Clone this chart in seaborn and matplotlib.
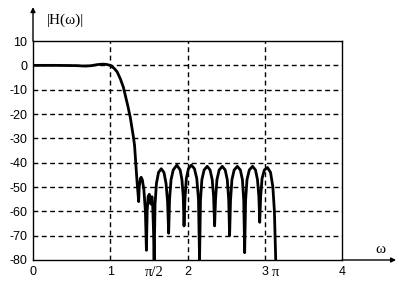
import numpy as np
import pandas as pd
import matplotlib
matplotlib.use("Agg")
import matplotlib.pyplot as plt
import seaborn as sns

# ---- data ----
omega = [
    0.00, 0.30, 0.55, 0.68, 0.76, 0.83, 0.90, 0.95, 1.00,
    1.05, 1.09, 1.13, 1.17, 1.20, 1.23, 1.26, 1.28, 1.30, 1.315, 1.33, 1.345, 1.368,
    1.375, 1.39, 1.40, 1.415, 1.435, 1.455, 1.468,
    1.478, 1.49, 1.505, 1.515, 1.525, 1.533, 1.540, 1.550, 1.560, 1.568,
    1.580, 1.598, 1.625, 1.660, 1.695, 1.722, 1.742, 1.756,
    1.768, 1.787, 1.815, 1.862, 1.905, 1.928, 1.945, 1.955,
    1.967, 1.985, 2.012, 2.050, 2.090, 2.120, 2.142, 2.156,
    2.168, 2.186, 2.215, 2.255, 2.292, 2.320, 2.338, 2.351,
    2.363, 2.381, 2.410, 2.450, 2.488, 2.515, 2.533, 2.545,
    2.557, 2.575, 2.604, 2.645, 2.684, 2.711, 2.728, 2.740,
    2.752, 2.770, 2.800, 2.842, 2.880, 2.906, 2.924, 2.935,
    2.947, 2.965, 2.995, 3.035, 3.075, 3.105, 3.125, 3.142,
]
mag_db = [
    0.0, 0.0, -0.1, -0.3, -0.1, 0.3, 0.5, 0.4, 0.0,
    -1.2, -2.7, -5.5, -9.0, -13.0, -17.0, -21.5, -25.5, -29.5, -33.0, -40.0, -47.0, -56.0,
    -50.0, -46.5, -46.0, -47.0, -51.0, -60.0, -76.0,
    -60.0, -54.0, -53.0, -54.5, -57.0, -55.0, -54.0, -58.0, -68.0, -80.0,
    -57.0, -48.5, -44.0, -42.5, -44.0, -48.5, -56.0, -69.0,
    -55.0, -47.0, -43.0, -41.0, -43.0, -47.0, -54.0, -66.0,
    -55.0, -46.5, -42.5, -41.0, -42.5, -46.5, -55.0, -80.0,
    -55.5, -47.0, -43.0, -41.5, -43.0, -47.0, -54.0, -66.0,
    -55.0, -47.0, -43.0, -41.5, -43.0, -47.0, -55.0, -70.0,
    -55.5, -47.0, -43.0, -41.5, -43.0, -47.0, -55.5, -77.0,
    -55.5, -47.0, -43.0, -41.5, -43.0, -47.0, -54.0, -64.5,
    -54.0, -46.5, -43.0, -42.0, -44.0, -50.0, -60.0, -80.0,
]
y_ticks = [10, 0, -10, -20, -30, -40, -50, -60, -70, -80]
x_ticks = [0, 1, np.pi / 2, 2, 3, np.pi, 4]
x_tick_labels = ["0", "1", "π/2", "2", "3", "π", "4"]
y_label = "|H(ω)|"
x_label = "ω"

df = pd.DataFrame({"omega": omega, "mag": mag_db})

sns.set_style("white")
plt.rcParams["font.family"] = ["Liberation Sans", "DejaVu Sans"]

fig = plt.figure(figsize=(4.0, 2.83), dpi=100)
ax = fig.add_axes([0.0825, 0.0813, 0.7725, 0.7737])

# dashed grid (drawn first)
for yv in [0, -10, -20, -30, -40, -50, -60, -70]:
    ax.axhline(yv, color="black", lw=1.0, ls=(0, (3.5, 2.5)), zorder=1)
for xv in [1, 2, 3]:
    ax.axvline(xv, color="black", lw=1.0, ls=(0, (3.5, 2.5)), zorder=1)

sns.lineplot(data=df, x="omega", y="mag", ax=ax, color="black", lw=2.0,
             estimator=None, sort=False, zorder=3)

ax.set_xlim(0, 4)
ax.set_ylim(-80, 10)
ax.set_yticks(y_ticks)
ax.set_yticklabels([str(v) for v in y_ticks])
ax.set_xticks(x_ticks)
ax.set_xticklabels(x_tick_labels)
ax.set_xlabel("")
ax.set_ylabel("")
ax.tick_params(axis="both", length=0, labelsize=9, colors="black")
ax.tick_params(axis="y", pad=4)
ax.tick_params(axis="x", pad=4)
for lbl in ax.get_xticklabels():
    if "π" in lbl.get_text():
        lbl.set_fontfamily(["Liberation Serif", "DejaVu Serif"])
        lbl.set_fontsize(10.5)

for sp in ax.spines.values():
    sp.set_visible(True)
    sp.set_color("black")
    sp.set_linewidth(1.0)

# axis arrows
ax.annotate("", xy=(0, 1.155), xytext=(0, 1.0), xycoords="axes fraction",
            arrowprops=dict(arrowstyle="-|>", color="black", lw=1.0,
                            mutation_scale=7, shrinkA=0, shrinkB=0),
            annotation_clip=False)
ax.annotate("", xy=(1.175, 0), xytext=(1.0, 0), xycoords="axes fraction",
            arrowprops=dict(arrowstyle="-|>", color="black", lw=1.0,
                            mutation_scale=7, shrinkA=0, shrinkB=0),
            annotation_clip=False)

ax.text(0.045, 1.095, y_label, transform=ax.transAxes, ha="left", va="center",
        fontsize=11, family=["Liberation Serif", "DejaVu Serif"], color="black")
ax.text(1.123, 0.05, x_label, transform=ax.transAxes, ha="center", va="center",
        fontsize=11, family=["Liberation Serif", "DejaVu Serif"], color="black")

fig.savefig("out.png", dpi=100, facecolor="white")
